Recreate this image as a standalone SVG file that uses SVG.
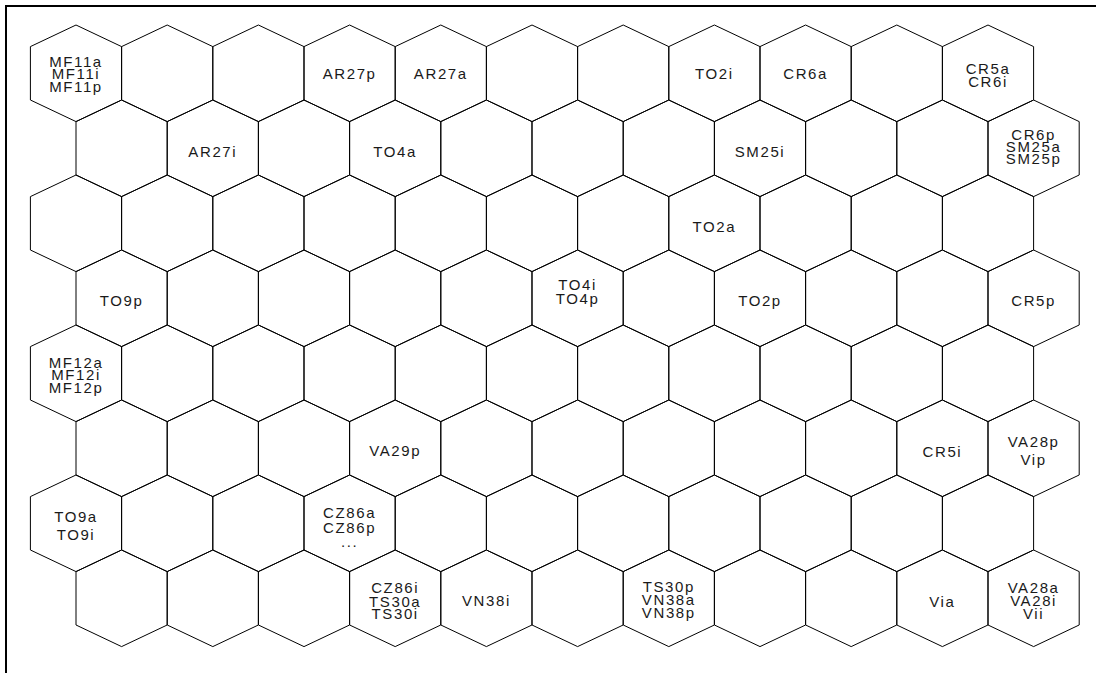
<svg xmlns="http://www.w3.org/2000/svg" xmlns:xlink="http://www.w3.org/1999/xlink" width="1096" height="673" viewBox="0 0 1096 673">
<style>
.h{fill:none;stroke:#000;stroke-width:1}
text{font-family:"Liberation Sans",Arial,Helvetica,sans-serif;font-size:15px;letter-spacing:1.6px;text-anchor:middle;fill:#1a1a1a}
</style>
<defs>
<polygon id="hx" class="h" points="0,-48.3 45.6,-26.7 45.6,26.7 0,48.3 -45.6,26.7 -45.6,-26.7"/>
</defs>
<rect x="0" y="0" width="1096" height="673" fill="#fff"/>
<rect x="6" y="6" width="1200" height="800" fill="none" stroke="#000" stroke-width="2"/>
<g id="connectors"/>
<g id="row0">
<g id="n0-0"><use href="#hx" x="76" y="73.3"/><text x="76" y="66.5">MF11a</text><text x="76" y="79">MF11i</text><text x="76" y="91.5">MF11p</text></g>
<g id="n0-1"><use href="#hx" x="167.2" y="73.3"/></g>
<g id="n0-2"><use href="#hx" x="258.4" y="73.3"/></g>
<g id="n0-3"><use href="#hx" x="349.6" y="73.3"/><text x="349.6" y="79">AR27p</text></g>
<g id="n0-4"><use href="#hx" x="440.8" y="73.3"/><text x="440.8" y="79">AR27a</text></g>
<g id="n0-5"><use href="#hx" x="532" y="73.3"/></g>
<g id="n0-6"><use href="#hx" x="623.2" y="73.3"/></g>
<g id="n0-7"><use href="#hx" x="714.4" y="73.3"/><text x="714.4" y="79">TO2i</text></g>
<g id="n0-8"><use href="#hx" x="805.6" y="73.3"/><text x="805.6" y="79">CR6a</text></g>
<g id="n0-9"><use href="#hx" x="896.8" y="73.3"/></g>
<g id="n0-10"><use href="#hx" x="988" y="73.3"/><text x="988" y="74">CR5a</text><text x="988" y="87.3">CR6i</text></g>
</g>
<g id="row1">
<g id="n1-0"><use href="#hx" x="121.6" y="148.3"/></g>
<g id="n1-1"><use href="#hx" x="212.8" y="148.3"/><text x="212.8" y="157">AR27i</text></g>
<g id="n1-2"><use href="#hx" x="304" y="148.3"/></g>
<g id="n1-3"><use href="#hx" x="395.2" y="148.3"/><text x="395.2" y="157">TO4a</text></g>
<g id="n1-4"><use href="#hx" x="486.4" y="148.3"/></g>
<g id="n1-5"><use href="#hx" x="577.6" y="148.3"/></g>
<g id="n1-6"><use href="#hx" x="668.8" y="148.3"/></g>
<g id="n1-7"><use href="#hx" x="760" y="148.3"/><text x="760" y="157">SM25i</text></g>
<g id="n1-8"><use href="#hx" x="851.2" y="148.3"/></g>
<g id="n1-9"><use href="#hx" x="942.4" y="148.3"/></g>
<g id="n1-10"><use href="#hx" x="1033.6" y="148.3"/><text x="1033.6" y="140">CR6p</text><text x="1033.6" y="152">SM25a</text><text x="1033.6" y="164.3">SM25p</text></g>
</g>
<g id="row2">
<g id="n2-0"><use href="#hx" x="76" y="223.3"/></g>
<g id="n2-1"><use href="#hx" x="167.2" y="223.3"/></g>
<g id="n2-2"><use href="#hx" x="258.4" y="223.3"/></g>
<g id="n2-3"><use href="#hx" x="349.6" y="223.3"/></g>
<g id="n2-4"><use href="#hx" x="440.8" y="223.3"/></g>
<g id="n2-5"><use href="#hx" x="532" y="223.3"/></g>
<g id="n2-6"><use href="#hx" x="623.2" y="223.3"/></g>
<g id="n2-7"><use href="#hx" x="714.4" y="223.3"/><text x="714.4" y="232">TO2a</text></g>
<g id="n2-8"><use href="#hx" x="805.6" y="223.3"/></g>
<g id="n2-9"><use href="#hx" x="896.8" y="223.3"/></g>
<g id="n2-10"><use href="#hx" x="988" y="223.3"/></g>
</g>
<g id="row3">
<g id="n3-0"><use href="#hx" x="121.6" y="298.3"/><text x="121.6" y="306">TO9p</text></g>
<g id="n3-1"><use href="#hx" x="212.8" y="298.3"/></g>
<g id="n3-2"><use href="#hx" x="304" y="298.3"/></g>
<g id="n3-3"><use href="#hx" x="395.2" y="298.3"/></g>
<g id="n3-4"><use href="#hx" x="486.4" y="298.3"/></g>
<g id="n3-5"><use href="#hx" x="577.6" y="298.3"/><text x="577.6" y="290">TO4i</text><text x="577.6" y="304">TO4p</text></g>
<g id="n3-6"><use href="#hx" x="668.8" y="298.3"/></g>
<g id="n3-7"><use href="#hx" x="760" y="298.3"/><text x="760" y="306">TO2p</text></g>
<g id="n3-8"><use href="#hx" x="851.2" y="298.3"/></g>
<g id="n3-9"><use href="#hx" x="942.4" y="298.3"/></g>
<g id="n3-10"><use href="#hx" x="1033.6" y="298.3"/><text x="1033.6" y="306">CR5p</text></g>
</g>
<g id="row4">
<g id="n4-0"><use href="#hx" x="76" y="373.3"/><text x="76" y="367.5">MF12a</text><text x="76" y="380">MF12i</text><text x="76" y="392.5">MF12p</text></g>
<g id="n4-1"><use href="#hx" x="167.2" y="373.3"/></g>
<g id="n4-2"><use href="#hx" x="258.4" y="373.3"/></g>
<g id="n4-3"><use href="#hx" x="349.6" y="373.3"/></g>
<g id="n4-4"><use href="#hx" x="440.8" y="373.3"/></g>
<g id="n4-5"><use href="#hx" x="532" y="373.3"/></g>
<g id="n4-6"><use href="#hx" x="623.2" y="373.3"/></g>
<g id="n4-7"><use href="#hx" x="714.4" y="373.3"/></g>
<g id="n4-8"><use href="#hx" x="805.6" y="373.3"/></g>
<g id="n4-9"><use href="#hx" x="896.8" y="373.3"/></g>
<g id="n4-10"><use href="#hx" x="988" y="373.3"/></g>
</g>
<g id="row5">
<g id="n5-0"><use href="#hx" x="121.6" y="448.3"/></g>
<g id="n5-1"><use href="#hx" x="212.8" y="448.3"/></g>
<g id="n5-2"><use href="#hx" x="304" y="448.3"/></g>
<g id="n5-3"><use href="#hx" x="395.2" y="448.3"/><text x="395.2" y="456">VA29p</text></g>
<g id="n5-4"><use href="#hx" x="486.4" y="448.3"/></g>
<g id="n5-5"><use href="#hx" x="577.6" y="448.3"/></g>
<g id="n5-6"><use href="#hx" x="668.8" y="448.3"/></g>
<g id="n5-7"><use href="#hx" x="760" y="448.3"/></g>
<g id="n5-8"><use href="#hx" x="851.2" y="448.3"/></g>
<g id="n5-9"><use href="#hx" x="942.4" y="448.3"/><text x="942.4" y="457">CR5i</text></g>
<g id="n5-10"><use href="#hx" x="1033.6" y="448.3"/><text x="1033.6" y="447">VA28p</text><text x="1033.6" y="465">Vip</text></g>
</g>
<g id="row6">
<g id="n6-0"><use href="#hx" x="76" y="523.3"/><text x="76" y="521.7">TO9a</text><text x="76" y="540">TO9i</text></g>
<g id="n6-1"><use href="#hx" x="167.2" y="523.3"/></g>
<g id="n6-2"><use href="#hx" x="258.4" y="523.3"/></g>
<g id="n6-3"><use href="#hx" x="349.6" y="523.3"/><text x="349.6" y="518">CZ86a</text><text x="349.6" y="533">CZ86p</text><text x="349.6" y="547">...</text></g>
<g id="n6-4"><use href="#hx" x="440.8" y="523.3"/></g>
<g id="n6-5"><use href="#hx" x="532" y="523.3"/></g>
<g id="n6-6"><use href="#hx" x="623.2" y="523.3"/></g>
<g id="n6-7"><use href="#hx" x="714.4" y="523.3"/></g>
<g id="n6-8"><use href="#hx" x="805.6" y="523.3"/></g>
<g id="n6-9"><use href="#hx" x="896.8" y="523.3"/></g>
<g id="n6-10"><use href="#hx" x="988" y="523.3"/></g>
</g>
<g id="row7">
<g id="n7-0"><use href="#hx" x="121.6" y="598.3"/></g>
<g id="n7-1"><use href="#hx" x="212.8" y="598.3"/></g>
<g id="n7-2"><use href="#hx" x="304" y="598.3"/></g>
<g id="n7-3"><use href="#hx" x="395.2" y="598.3"/><text x="395.2" y="593">CZ86i</text><text x="395.2" y="606.5">TS30a</text><text x="395.2" y="619">TS30i</text></g>
<g id="n7-4"><use href="#hx" x="486.4" y="598.3"/><text x="486.4" y="606">VN38i</text></g>
<g id="n7-5"><use href="#hx" x="577.6" y="598.3"/></g>
<g id="n7-6"><use href="#hx" x="668.8" y="598.3"/><text x="668.8" y="592">TS30p</text><text x="668.8" y="605">VN38a</text><text x="668.8" y="617.5">VN38p</text></g>
<g id="n7-7"><use href="#hx" x="760" y="598.3"/></g>
<g id="n7-8"><use href="#hx" x="851.2" y="598.3"/></g>
<g id="n7-9"><use href="#hx" x="942.4" y="598.3"/><text x="942.4" y="607">Via</text></g>
<g id="n7-10"><use href="#hx" x="1033.6" y="598.3"/><text x="1033.6" y="593">VA28a</text><text x="1033.6" y="606">VA28i</text><text x="1033.6" y="619">Vii</text></g>
</g>
</svg>
